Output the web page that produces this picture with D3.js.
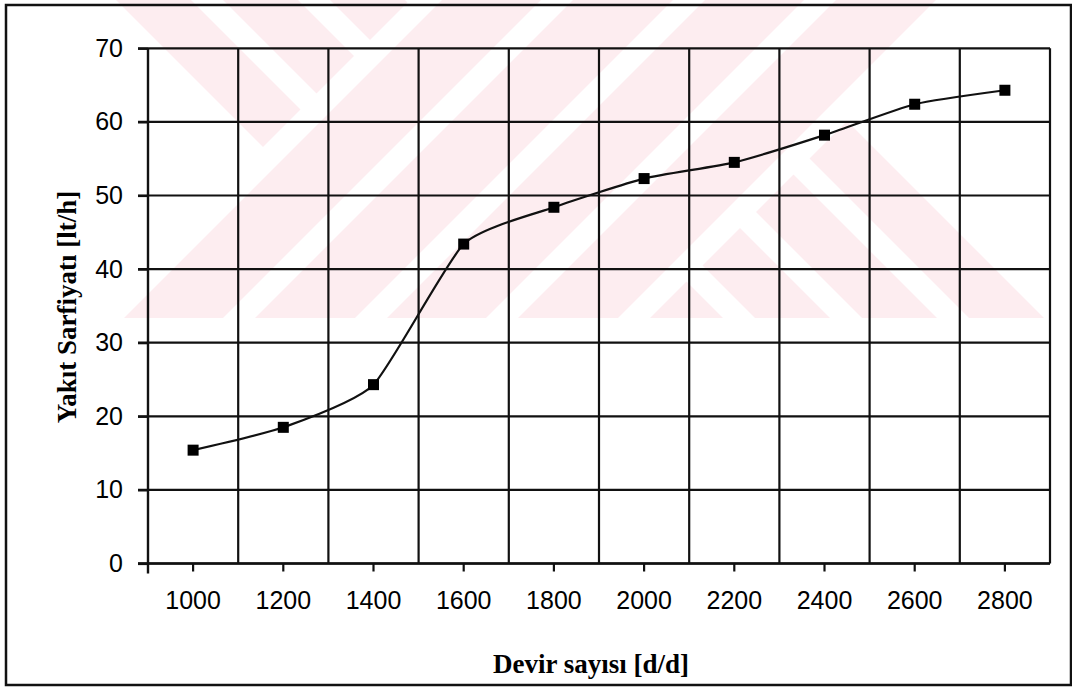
<!DOCTYPE html>
<html>
<head>
<meta charset="utf-8">
<script src="https://cdn.jsdelivr.net/npm/d3@7"></script>
<style>
  html, body { margin: 0; padding: 0; background: #fff; }
  svg { display: block; }
</style>
</head>
<body>
<svg id="chart" width="1072" height="688"></svg>
<script>
// Fuel consumption against engine speed
const categories = ["1000", "1200", "1400", "1600", "1800", "2000", "2200", "2400", "2600", "2800"];
const fuelUse = [15.4, 18.5, 24.3, 43.4, 48.4, 52.3, 54.5, 58.2, 62.4, 64.3];
const yTicks = [0, 10, 20, 30, 40, 50, 60, 70];
const xTitle = "Devir sayısı [d/d]";
const yTitle = "Yakıt Sarfiyatı [lt/h]";

const W = 1072, H = 688;
const plot = { left: 148, right: 1050, top: 48.3, bottom: 563.5 };
const svg = d3.select("#chart");

svg.append("rect").attr("width", W).attr("height", H).attr("fill", "#fff");

// ---- faint striped background emblem (an X built from two diagonal arms) ----
// Geometry is laid out in diagonal coordinates u = x - y, v = x + y.
function uvPoint(u, v) { return [(u + v) / 2, (v - u) / 2]; }
function uvRect(u1, u2, v1, v2) { return [uvPoint(u1, v1), uvPoint(u2, v1), uvPoint(u2, v2), uvPoint(u1, v2)]; }
const BIG = 4000;
const armU = [100, 742], armV = [426, 952], half = 16;
const stripesU = [100, 207, 314, 421, 528, 635, 742];
const stripesV = [426, 557, 689, 820, 952];

const defs = svg.append("defs");
defs.append("clipPath").attr("id", "emblemClip")
  .append("rect").attr("x", 0).attr("y", 0).attr("width", W).attr("height", 318);

const emblem = svg.append("g").attr("clip-path", "url(#emblemClip)");
const poly = d3.line();
const pinkShapes = [uvRect(armU[0], armU[1], -BIG, BIG), uvRect(-BIG, BIG, armV[0], armV[1])];
emblem.selectAll("path.arm").data(pinkShapes).join("path")
  .attr("class", "arm").attr("d", p => poly(p) + "Z").attr("fill", "#fdedf0");
const whiteShapes = [
  ...stripesV.map(v => uvRect(-BIG, BIG, v - half, v + half)),
  ...stripesU.flatMap(u => [uvRect(u - half, u + half, -BIG, armV[0]), uvRect(u - half, u + half, armV[1], BIG)])
];
emblem.selectAll("path.gap").data(whiteShapes).join("path")
  .attr("class", "gap").attr("d", p => poly(p) + "Z").attr("fill", "#fff");

// ---- scales ----
const x = d3.scaleBand().domain(categories).range([plot.left, plot.right]);
const y = d3.scaleLinear().domain([0, 70]).range([plot.bottom, plot.top]);

const ink = "#111";

// horizontal grid lines (also serve as the left tick marks)
svg.append("g").selectAll("line").data(yTicks).join("line")
  .attr("x1", plot.left - 10).attr("x2", plot.right)
  .attr("y1", d => y(d)).attr("y2", d => y(d))
  .attr("stroke", ink).attr("stroke-width", 2.2);

// vertical grid lines between categories
const bounds = categories.map((c, i) => x(c) + x.step());
svg.append("g").selectAll("line").data(bounds).join("line")
  .attr("x1", d => d).attr("x2", d => d)
  .attr("y1", plot.top).attr("y2", plot.bottom)
  .attr("stroke", ink).attr("stroke-width", 2.2);

// y axis
const yAxis = d3.axisLeft(y).tickValues(yTicks).tickSize(10).tickPadding(15).tickSizeOuter(0);
const gy = svg.append("g").attr("transform", `translate(${plot.left},0)`).call(yAxis);
gy.select(".domain").remove();
gy.selectAll(".tick line").attr("stroke", ink).attr("stroke-width", 2.2);
gy.selectAll(".tick text")
  .attr("fill", "#000")
  .style("font-family", "'Liberation Sans', Arial, sans-serif")
  .style("font-size", "25px");
svg.append("line")
  .attr("x1", plot.left).attr("x2", plot.left)
  .attr("y1", plot.top).attr("y2", plot.bottom + 10)
  .attr("stroke", ink).attr("stroke-width", 2.4);

// x axis
const xAxis = d3.axisBottom(x).tickSize(8).tickPadding(20).tickSizeOuter(0);
const gx = svg.append("g").attr("transform", `translate(0,${plot.bottom})`).call(xAxis);
gx.select(".domain").remove();
gx.selectAll(".tick line").attr("stroke", ink).attr("stroke-width", 2.2);
gx.selectAll(".tick text")
  .attr("fill", "#000")
  .style("font-family", "'Liberation Sans', Arial, sans-serif")
  .style("font-size", "25px");
svg.append("line")
  .attr("x1", plot.left - 10).attr("x2", plot.right)
  .attr("y1", plot.bottom).attr("y2", plot.bottom)
  .attr("stroke", ink).attr("stroke-width", 2.4);

// data line (lightly smoothed) and square markers
const pts = categories.map((c, i) => ({ cat: c, val: fuelUse[i] }));
const cx = d => x(d.cat) + x.bandwidth() / 2;
const path = d3.line().x(cx).y(d => y(d.val)).curve(d3.curveCardinal.tension(0.45));
svg.append("path").datum(pts)
  .attr("d", path).attr("fill", "none")
  .attr("stroke", ink).attr("stroke-width", 2.2);
const ms = 11;
svg.append("g").selectAll("rect").data(pts).join("rect")
  .attr("x", d => cx(d) - ms / 2).attr("y", d => y(d.val) - ms / 2)
  .attr("width", ms).attr("height", ms).attr("fill", "#000");

// axis titles
svg.append("text")
  .attr("x", 591).attr("y", 673)
  .attr("text-anchor", "middle")
  .style("font-family", "'Liberation Serif', 'Times New Roman', serif")
  .style("font-weight", "bold").style("font-size", "27px")
  .attr("fill", "#000")
  .text(xTitle);
svg.append("text")
  .attr("transform", "translate(76,307) rotate(-90)")
  .attr("text-anchor", "middle")
  .style("font-family", "'Liberation Serif', 'Times New Roman', serif")
  .style("font-weight", "bold").style("font-size", "27px")
  .attr("fill", "#000")
  .text(yTitle);

// outer frame
svg.append("rect")
  .attr("x", 6).attr("y", 5).attr("width", 1065).attr("height", 680)
  .attr("fill", "none").attr("stroke", ink).attr("stroke-width", 2.5);
</script>
</body>
</html>
